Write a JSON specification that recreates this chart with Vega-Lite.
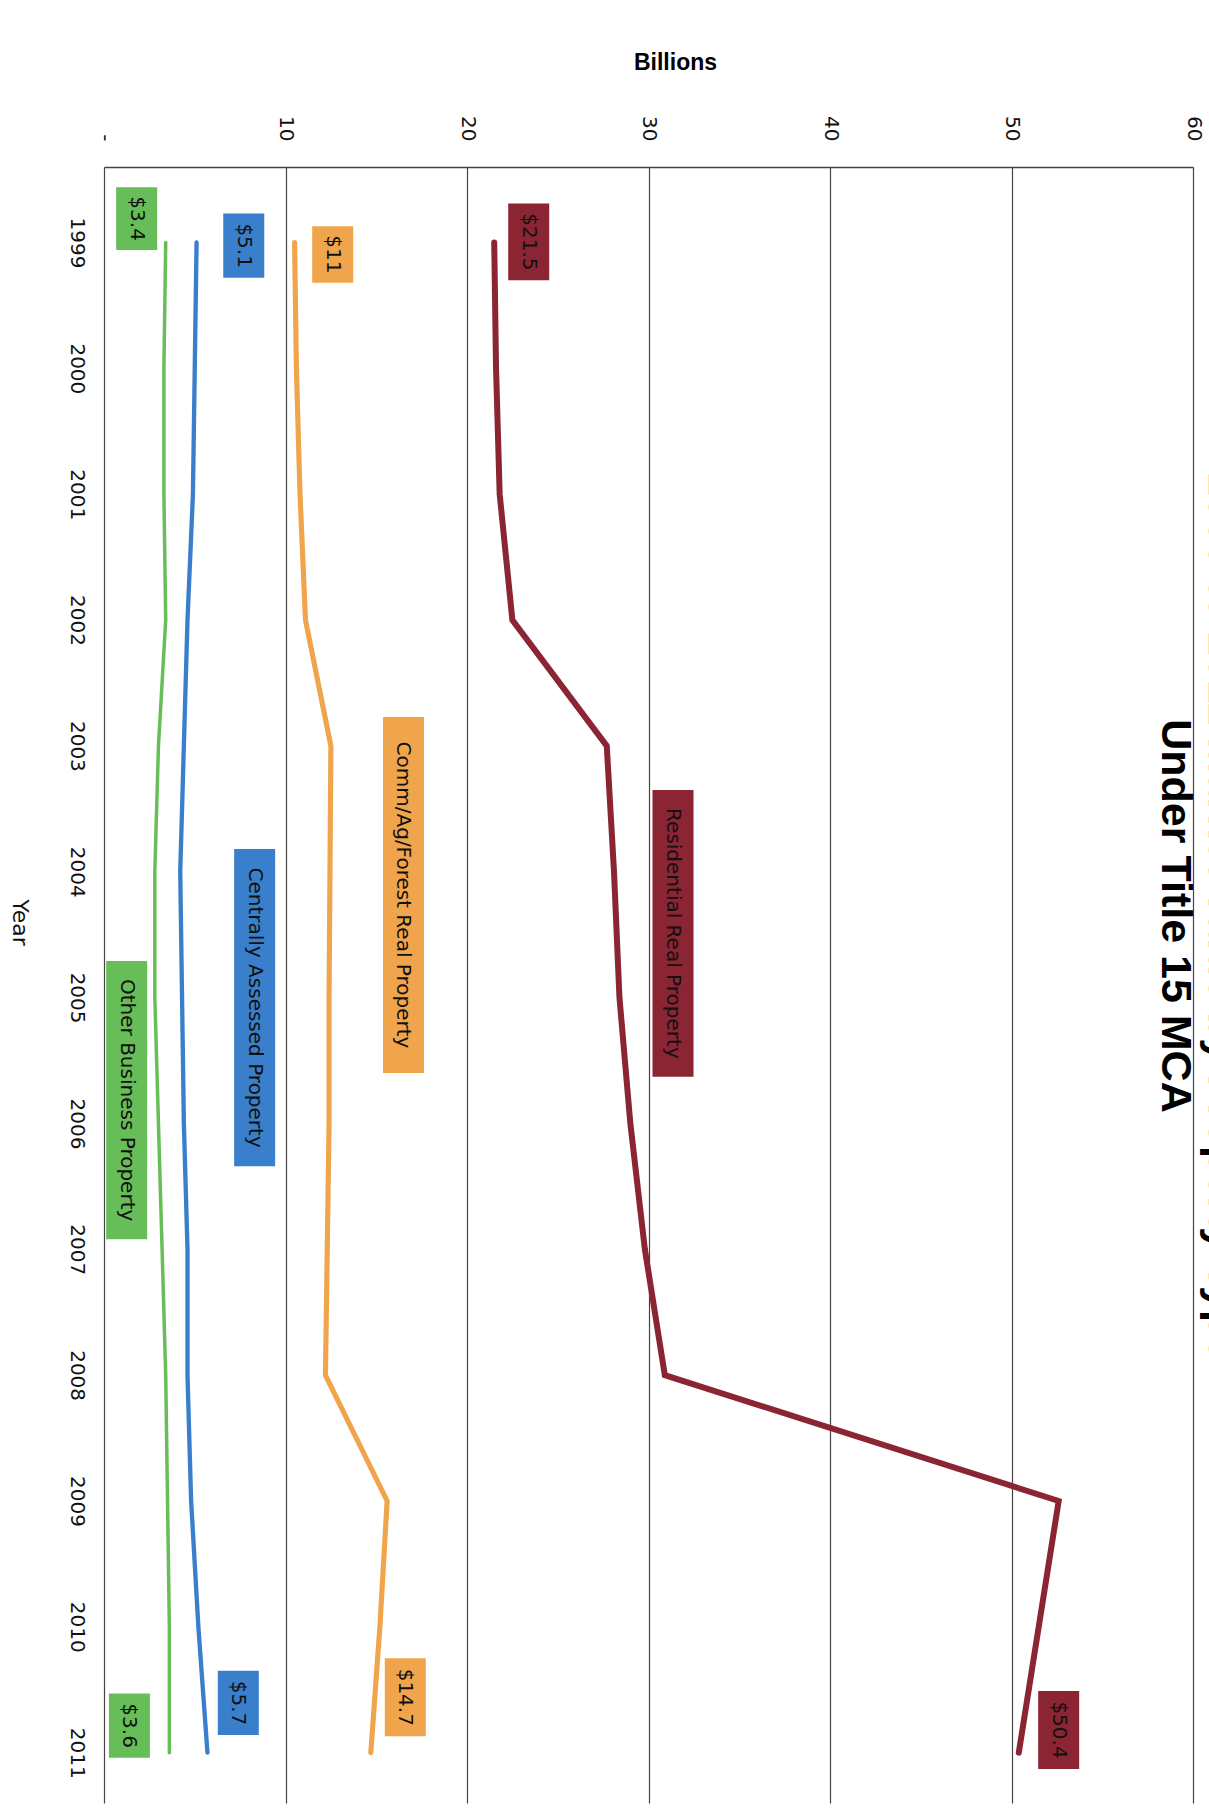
{
  "$schema": "https://vega.github.io/schema/vega-lite/v6.json",
  "width": 1089,
  "height": 1636,
  "autosize": "none",
  "padding": {"left": 104, "top": 167, "right": 16, "bottom": 11},
  "background": "white",
  "title": {
    "text": ["1999 to 2011 Market Value by Property Type", "Under Title 15 MCA"],
    "orient": "right",
    "anchor": "middle",
    "angle": 90,
    "font": "Liberation Sans Narrow, Liberation Sans",
    "fontSize": 43,
    "fontWeight": "bold",
    "color": "#000000",
    "offset": -50,
    "lineHeight": 47,
    "dx": -69
  },
  "datasets": {
    "series": [
      {"series": "Residential", "year": 1999, "value": 21.5},
      {"series": "Residential", "year": 2000, "value": 21.6},
      {"series": "Residential", "year": 2001, "value": 21.8},
      {"series": "Residential", "year": 2002, "value": 22.5},
      {"series": "Residential", "year": 2003, "value": 27.7},
      {"series": "Residential", "year": 2004, "value": 28.1},
      {"series": "Residential", "year": 2005, "value": 28.4},
      {"series": "Residential", "year": 2006, "value": 29.0},
      {"series": "Residential", "year": 2007, "value": 29.8},
      {"series": "Residential", "year": 2008, "value": 30.9},
      {"series": "Residential", "year": 2009, "value": 52.6},
      {"series": "Residential", "year": 2010, "value": 51.5},
      {"series": "Residential", "year": 2011, "value": 50.4},
      {"series": "Comm", "year": 1999, "value": 10.5},
      {"series": "Comm", "year": 2000, "value": 10.6},
      {"series": "Comm", "year": 2001, "value": 10.8},
      {"series": "Comm", "year": 2002, "value": 11.1},
      {"series": "Comm", "year": 2003, "value": 12.5},
      {"series": "Comm", "year": 2004, "value": 12.45},
      {"series": "Comm", "year": 2005, "value": 12.4},
      {"series": "Comm", "year": 2006, "value": 12.4},
      {"series": "Comm", "year": 2007, "value": 12.3},
      {"series": "Comm", "year": 2008, "value": 12.2},
      {"series": "Comm", "year": 2009, "value": 15.6},
      {"series": "Comm", "year": 2010, "value": 15.2},
      {"series": "Comm", "year": 2011, "value": 14.7},
      {"series": "Central", "year": 1999, "value": 5.1},
      {"series": "Central", "year": 2000, "value": 5.0},
      {"series": "Central", "year": 2001, "value": 4.9},
      {"series": "Central", "year": 2002, "value": 4.6},
      {"series": "Central", "year": 2003, "value": 4.4},
      {"series": "Central", "year": 2004, "value": 4.2},
      {"series": "Central", "year": 2005, "value": 4.3},
      {"series": "Central", "year": 2006, "value": 4.4},
      {"series": "Central", "year": 2007, "value": 4.6},
      {"series": "Central", "year": 2008, "value": 4.6},
      {"series": "Central", "year": 2009, "value": 4.8},
      {"series": "Central", "year": 2010, "value": 5.2},
      {"series": "Central", "year": 2011, "value": 5.7},
      {"series": "Other", "year": 1999, "value": 3.4},
      {"series": "Other", "year": 2000, "value": 3.3},
      {"series": "Other", "year": 2001, "value": 3.3},
      {"series": "Other", "year": 2002, "value": 3.4},
      {"series": "Other", "year": 2003, "value": 3.0},
      {"series": "Other", "year": 2004, "value": 2.8},
      {"series": "Other", "year": 2005, "value": 2.8},
      {"series": "Other", "year": 2006, "value": 3.0},
      {"series": "Other", "year": 2007, "value": 3.2},
      {"series": "Other", "year": 2008, "value": 3.4},
      {"series": "Other", "year": 2009, "value": 3.5},
      {"series": "Other", "year": 2010, "value": 3.6},
      {"series": "Other", "year": 2011, "value": 3.6}
    ],
    "labels": [
      {"series": "Other", "label": "$3.4", "value": 1.8, "y0": 1998.56, "y1": 1999.06, "ymid": 1998.81},
      {"series": "Central", "label": "$5.1", "value": 7.7, "y0": 1998.77, "y1": 1999.28, "ymid": 1999.025},
      {"series": "Comm", "label": "$11", "value": 12.6, "y0": 1998.87, "y1": 1999.32, "ymid": 1999.095},
      {"series": "Residential", "label": "$21.5", "value": 23.4, "y0": 1998.69, "y1": 1999.3, "ymid": 1998.995},
      {"series": "Residential", "label": "Residential Real Property", "value": 31.35, "y0": 2003.35, "y1": 2005.63, "ymid": 2004.49},
      {"series": "Comm", "label": "Comm/Ag/Forest Real Property", "value": 16.5, "y0": 2002.77, "y1": 2005.6, "ymid": 2004.185},
      {"series": "Central", "label": "Centrally Assessed Property", "value": 8.3, "y0": 2003.82, "y1": 2006.34, "ymid": 2005.08},
      {"series": "Other", "label": "Other Business Property", "value": 1.25, "y0": 2004.71, "y1": 2006.92, "ymid": 2005.815},
      {"series": "Other", "label": "$3.6", "value": 1.4, "y0": 2010.53, "y1": 2011.04, "ymid": 2010.785},
      {"series": "Central", "label": "$5.7", "value": 7.4, "y0": 2010.35, "y1": 2010.86, "ymid": 2010.605},
      {"series": "Comm", "label": "$14.7", "value": 16.6, "y0": 2010.25, "y1": 2010.87, "ymid": 2010.56},
      {"series": "Residential", "label": "$50.4", "value": 52.6, "y0": 2010.51, "y1": 2011.13, "ymid": 2010.82}
    ]
  },
  "config": {
    "view": {"stroke": null},
    "axisTop": {
      "labelAngle": 90,
      "labelAlign": "right",
      "labelBaseline": "middle",
      "labelFont": "DejaVu Sans",
      "labelFontSize": 20,
      "labelColor": "#111111",
      "labelPadding": 26,
      "labelOverlap": false,
      "labelBound": false,
      "labelFlush": false,
      "ticks": false,
      "domain": true,
      "domainColor": "#444444",
      "domainWidth": 1.5,
      "grid": true,
      "gridColor": "#444444",
      "gridWidth": 1.2,
      "titleFont": "Liberation Sans Narrow, Liberation Sans",
      "titleFontWeight": "bold",
      "titleFontSize": 23,
      "titleColor": "#000000",
      "titleX": 571,
      "titleY": -105,
      "titleAlign": "center",
      "titleBaseline": "middle",
      "titleAngle": 0
    },
    "axisLeft": {
      "labelAngle": 90,
      "labelAlign": "center",
      "labelBaseline": "top",
      "labelFont": "DejaVu Sans",
      "labelFontSize": 20,
      "labelColor": "#111111",
      "labelPadding": 18,
      "labelOverlap": false,
      "labelBound": false,
      "labelFlush": false,
      "ticks": false,
      "domain": false,
      "grid": false,
      "titleFont": "DejaVu Sans",
      "titleFontWeight": "normal",
      "titleFontSize": 22,
      "titleColor": "#111111",
      "titleAngle": 90,
      "titleX": -85,
      "titleY": 755,
      "titleAlign": "center",
      "titleBaseline": "middle"
    }
  },
  "layer": [
    {
      "data": {"name": "series"},
      "mark": {"type": "line", "strokeCap": "round", "strokeJoin": "miter"},
      "encoding": {
        "x": {"field": "value", "type": "quantitative", "title": "Billions", "axis": {"orient": "top", "values": [0, 10, 20, 30, 40, 50, 60], "labelExpr": "datum.value == 0 ? '-' : datum.label"}, "scale": {"domain": [0, 60], "nice": false, "zero": false}},
        "y": {"field": "year", "type": "quantitative", "title": "Year", "axis": {"orient": "left", "values": [1999, 2000, 2001, 2002, 2003, 2004, 2005, 2006, 2007, 2008, 2009, 2010, 2011], "format": "d"}, "scale": {"domain": [1998.4, 2011.4], "nice": false, "zero": false, "reverse": true}},
        "order": {"field": "year", "type": "quantitative"},
        "color": {"field": "series", "type": "nominal", "legend": null, "scale": {"domain": ["Residential", "Comm", "Central", "Other"], "range": ["#8b2433", "#f0a54c", "#3a7fcb", "#67bd57"]}},
        "strokeWidth": {"field": "series", "type": "nominal", "legend": null, "scale": {"domain": ["Residential", "Comm", "Central", "Other"], "range": [6, 3.5, 5, 4.5]}}
      }
    },
    {
      "data": {"name": "labels"},
      "mark": {"type": "rule", "strokeWidth": 41, "strokeCap": "butt"},
      "encoding": {
        "x": {"field": "value", "type": "quantitative", "title": "Billions"},
        "y": {"field": "y0", "type": "quantitative", "title": "Year"},
        "y2": {"field": "y1"},
        "color": {"field": "series", "type": "nominal", "legend": null, "scale": {"domain": ["Residential", "Comm", "Central", "Other"], "range": ["#8b2433", "#f0a54c", "#3a7fcb", "#67bd57"]}}
      }
    },
    {
      "data": {"name": "labels"},
      "mark": {"type": "text", "angle": 90, "align": "center", "baseline": "middle", "font": "DejaVu Sans", "fontSize": 20, "color": "#111111"},
      "encoding": {
        "x": {"field": "value", "type": "quantitative", "title": "Billions"},
        "y": {"field": "ymid", "type": "quantitative", "title": "Year"},
        "text": {"field": "label", "type": "nominal"}
      }
    }
  ]
}
